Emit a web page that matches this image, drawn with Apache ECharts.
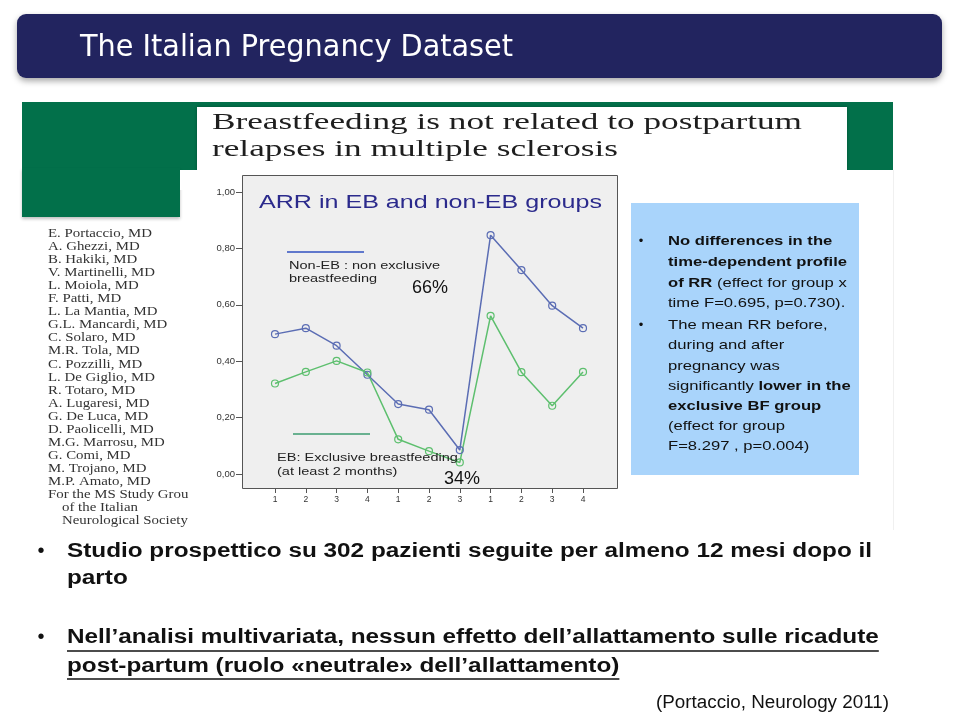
<!DOCTYPE html>
<html><head><meta charset="utf-8">
<script src="https://cdn.jsdelivr.net/npm/echarts@6/dist/echarts.min.js"></script>
<style>html,body{margin:0;padding:0;background:#fff}#c{width:959px;height:715px}</style>
</head><body><div id="c"></div>
<script>
// ---- data ----
const xLabels = ['1','2','3','4','1','2','3','1','2','3','4'];
const nonEB = [0.496,0.517,0.455,0.352,0.248,0.228,0.085,0.847,0.723,0.597,0.517];
const EB    = [0.321,0.362,0.401,0.360,0.123,0.081,0.041,0.561,0.361,0.242,0.362];
const authors = ['E. Portaccio, MD','A. Ghezzi, MD','B. Hakiki, MD','V. Martinelli, MD','L. Moiola, MD','F. Patti, MD','L. La Mantia, MD','G.L. Mancardi, MD','C. Solaro, MD','M.R. Tola, MD','C. Pozzilli, MD','L. De Giglio, MD','R. Totaro, MD','A. Lugaresi, MD','G. De Luca, MD','D. Paolicelli, MD','M.G. Marrosu, MD','G. Comi, MD','M. Trojano, MD','M.P. Amato, MD'];
const boxLines = [
  '{b|No differences in the}',
  '{b|time-dependent profile}',
  '{b|of RR}{n| (effect for group x}',
  '{n|time F=0.695, p=0.730).}',
  '{n|The mean RR before,}',
  '{n|during and after}',
  '{n|pregnancy was}',
  '{n|significantly }{b|lower in the}',
  '{b|exclusive BF group}',
  '{n|(effect for group}',
  '{n|F=8.297 , p=0.004)}'
];
const bottomLines = [
  'Studio prospettico su 302 pazienti seguite per almeno 12 mesi dopo il',
  'parto',
  'Nell\u2019analisi multivariata, nessun effetto dell\u2019allattamento sulle ricadute',
  'post-partum (ruolo \u00abneutrale\u00bb dell\u2019allattamento)'
];

// ---- helpers ----
const mctx = document.createElement('canvas').getContext('2d');
function tw(text, size, family, weight){ mctx.font = (weight||'normal')+' '+size+'px '+family; return mctx.measureText(text).width; }
function txt(x, y, text, size, family, opt){
  opt = opt || {};
  return {type:'text', x:x, y:y, z: opt.z || 20, scaleX: opt.scaleX || 1, silent:true,
    style:{text:text, fontSize:size, fontFamily:family, fontWeight:opt.weight||'normal', fill:opt.fill||'#000',
      align:opt.align||'left', textAlign:opt.align||'left', verticalAlign:'middle', textVerticalAlign:'middle', rich: opt.rich}};
}
const SANS = 'Liberation Sans, Arial, sans-serif';
const SERIF = 'Liberation Serif, Times New Roman, serif';

const g = [];
// title bar
g.push({type:'rect', z:1, shape:{x:17,y:14,width:925,height:64,r:9}, style:{fill:'#22245f', shadowBlur:6, shadowOffsetY:3, shadowColor:'rgba(0,0,0,0.35)'}});
const TF = 'DejaVu Sans Condensed, DejaVu Sans, sans-serif';
g.push(txt(80, 48, 'The Italian Pregnancy Dataset', 31, TF, {fill:'#fff', scaleX: 433/tw('The Italian Pregnancy Dataset',31,TF)}));

// green band
g.push({type:'rect', z:1, shape:{x:22,y:102,width:871,height:68}, style:{fill:'#02704a'}});
g.push({type:'rect', z:1, shape:{x:22,y:168,width:158,height:49}, style:{fill:'#02704a', shadowBlur:3, shadowOffsetY:2, shadowColor:'rgba(0,0,0,0.25)'}});
g.push({type:'rect', z:2, shape:{x:197,y:107,width:650,height:75}, style:{fill:'#fff', shadowBlur:3, shadowColor:'rgba(0,0,0,0.3)'}});
g.push({type:'rect', z:3, shape:{x:180,y:170,width:713,height:20}, style:{fill:'#fff'}});
g.push({type:'line', z:3, shape:{x1:893.5,y1:170,x2:893.5,y2:530}, style:{stroke:'#f0f0f0', lineWidth:1}});
const j1 = 'Breastfeeding is not related to postpartum';
const jScale = 590/tw(j1,24,SERIF);
g.push(txt(212, 123, j1, 24, SERIF, {fill:'#1e1e1e', scaleX:jScale}));
g.push(txt(212, 150, 'relapses in multiple sclerosis', 24, SERIF, {fill:'#1e1e1e', scaleX:jScale}));

// authors
const aScale = 104/tw(authors[0],11.5,SERIF);
authors.forEach((a,i)=> g.push(txt(48, 234 + i*13.05, a, 11.5, SERIF, {fill:'#333', scaleX:aScale})));
g.push(txt(48, 495, 'For the MS Study Grou', 11.5, SERIF, {fill:'#333', scaleX:aScale}));
g.push(txt(62, 508, 'of the Italian', 11.5, SERIF, {fill:'#333', scaleX:aScale}));
g.push(txt(62, 521, 'Neurological Society', 11.5, SERIF, {fill:'#333', scaleX:aScale}));

// chart box
g.push({type:'rect', z:4, shape:{x:242.5,y:175.5,width:375,height:313}, style:{fill:'#efefef', stroke:'#555', lineWidth:1}});
const arr = 'ARR in EB and non-EB groups';
g.push(txt(259, 203, arr, 18.5, SANS, {fill:'#2b2a8c', scaleX: 343/tw(arr,18.5,SANS)}));
const lScale = 151/tw('Non-EB : non exclusive',10.5,SANS);
g.push({type:'line', z:5, shape:{x1:287,y1:252,x2:364,y2:252}, style:{stroke:'#3050c0', lineWidth:1.5}});
g.push(txt(289, 266, 'Non-EB : non exclusive', 10.5, SANS, {fill:'#222', scaleX:lScale}));
g.push(txt(289, 279, 'breastfeeding', 10.5, SANS, {fill:'#222', scaleX:lScale}));
g.push({type:'line', z:5, shape:{x1:293,y1:434,x2:370,y2:434}, style:{stroke:'#3c9c70', lineWidth:1.5}});
g.push(txt(277, 458, 'EB: Exclusive breastfeeding', 10.5, SANS, {fill:'#222', scaleX:lScale}));
g.push(txt(277, 472, '(at least 2 months)', 10.5, SANS, {fill:'#222', scaleX:lScale}));
g.push(txt(412, 288, '66%', 18, SANS, {fill:'#111'}));
g.push(txt(444, 479, '34%', 18, SANS, {fill:'#111'}));

// blue box
g.push({type:'rect', z:4, shape:{x:631,y:203,width:228,height:272}, style:{fill:'#a9d4fb'}});
const bScale = 179/tw('time-dependent profile',13,SANS,'bold');
const rich = {b:{fontSize:13, fontFamily:SANS, fontWeight:'bold', fill:'#111'}, n:{fontSize:13, fontFamily:SANS, fontWeight:'normal', fill:'#111'}};
const boxY = [241,262,283,303,325,345,366,386,406,426,446];
boxLines.forEach((l,i)=> g.push(txt(668, boxY[i], l, 13, SANS, {scaleX:bScale, rich:rich})));
g.push(txt(641, 241, '\u2022', 13, SANS, {fill:'#111', align:'center'}));
g.push(txt(641, 325, '\u2022', 13, SANS, {fill:'#111', align:'center'}));

// bottom text
const bs = 805/tw(bottomLines[0],20,SANS,'bold');
const bY = [551,578,637,666];
bottomLines.forEach((l,i)=> g.push(txt(67, bY[i], l, 20, SANS, {weight:'bold', fill:'#111', scaleX:bs})));
g.push(txt(41, 551, '\u2022', 20, SANS, {fill:'#111', align:'center'}));
g.push(txt(41, 637, '\u2022', 20, SANS, {fill:'#111', align:'center'}));
g.push({type:'line', z:20, shape:{x1:67,y1:651,x2:67+tw(bottomLines[2],20,SANS,'bold')*bs,y2:651}, style:{stroke:'#111', lineWidth:1.5}});
g.push({type:'line', z:20, shape:{x1:67,y1:679,x2:67+tw(bottomLines[3],20,SANS,'bold')*bs,y2:679}, style:{stroke:'#111', lineWidth:1.5}});
const cite = '(Portaccio, Neurology 2011)';
g.push(txt(656, 703, cite, 18, SANS, {fill:'#111', scaleX: 233/tw(cite,18,SANS)}));

const chart = echarts.init(document.getElementById('c'), null, {renderer:'canvas'});
chart.setOption({
  animation:false,
  backgroundColor:'#fff',
  graphic:{elements:g},
  grid:{left:259.6, top:192, width:338.8, height:282, show:false},
  xAxis:{type:'category', data:xLabels, boundaryGap:true, offset:15, z:6,
    axisLine:{show:false, onZero:false}, splitLine:{show:false},
    axisTick:{show:true, alignWithLabel:true, length:4, lineStyle:{color:'#555'}},
    axisLabel:{interval:0, fontSize:8.5, color:'#333', margin:6, fontFamily:SANS}},
  yAxis:{type:'value', min:0, max:1, interval:0.2, offset:17.6, z:6,
    axisLine:{show:false, onZero:false}, splitLine:{show:false},
    axisTick:{show:true, length:6, lineStyle:{color:'#555'}},
    axisLabel:{fontSize:9.5, color:'#333', margin:7, fontFamily:SANS, formatter:v=>v.toFixed(2).replace('.',',')}},
  series:[
    {type:'line', name:'Non-EB', data:nonEB, z:8, symbol:'circle', symbolSize:7,
      lineStyle:{color:'#5b6db4', width:1.5}, itemStyle:{color:'rgba(0,0,0,0)', borderColor:'#5b6db4', borderWidth:1.2}},
    {type:'line', name:'EB', data:EB, z:8, symbol:'circle', symbolSize:7,
      lineStyle:{color:'#5dbf6e', width:1.5}, itemStyle:{color:'rgba(0,0,0,0)', borderColor:'#5dbf6e', borderWidth:1.2}}
  ]
});
</script></body></html>
